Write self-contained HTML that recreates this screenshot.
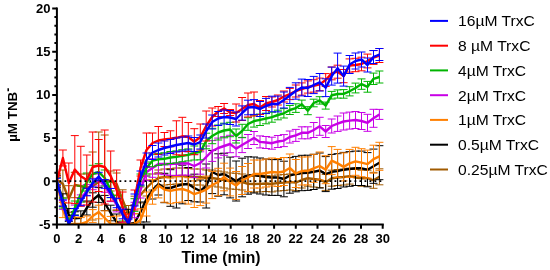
<!DOCTYPE html>
<html><head><meta charset="utf-8"><style>
html,body{margin:0;padding:0;background:#fff;width:550px;height:270px;overflow:hidden}
svg{display:block;will-change:transform}
text{font-family:"Liberation Sans",sans-serif}
.b text{font-weight:bold;font-size:13px;fill:#000}
.l text{font-size:15.5px;fill:#000}
</style></head><body>
<svg width="550" height="270" viewBox="0 0 550 270">
<defs><clipPath id="pc"><rect x="57" y="0" width="330" height="224.5"/></clipPath></defs>
<g clip-path="url(#pc)">
<path d="M56.9 174V186M52.9 174h8M52.9 186h8M62.9 170V198M58.9 170h8M58.9 198h8M68.8 185.7V212.3M64.8 185.7h8M64.8 212.3h8M74.8 172.3V197.7M70.8 172.3h8M70.8 197.7h8M80.8 174V198M76.8 174h8M76.8 198h8M86.8 174V202M82.8 174h8M82.8 202h8M92.7 152V220M88.7 152h8M88.7 220h8M98.7 132V232M94.7 132h8M94.7 232h8M104.7 135V225M100.7 135h8M100.7 225h8M110.7 171V191M106.7 171h8M106.7 191h8M116.6 173V195M112.6 173h8M112.6 195h8M122.6 189.8V210.2M118.6 189.8h8M118.6 210.2h8M128.6 205.5V224.5M124.6 205.5h8M124.6 224.5h8M134.5 196.2V213.8M130.5 196.2h8M130.5 213.8h8M140.5 187V203M136.5 187h8M136.5 203h8M146.5 180V196M142.5 180h8M142.5 196h8M152.5 174V190M148.5 174h8M148.5 190h8M158.4 170V186M154.4 170h8M154.4 186h8M164.4 169V185M160.4 169h8M160.4 185h8M170.4 168.5V184.5M166.4 168.5h8M166.4 184.5h8M176.4 168V184M172.4 168h8M172.4 184h8M182.3 168V184M178.3 168h8M178.3 184h8M188.3 168.5V184.5M184.3 168.5h8M184.3 184.5h8M194.3 169V185M190.3 169h8M190.3 185h8M200.3 169V185M196.3 169h8M196.3 185h8M206.2 170V186M202.2 170h8M202.2 186h8M212.2 170V186M208.2 170h8M208.2 186h8M218.2 171V187M214.2 171h8M214.2 187h8M224.1 172V188M220.1 172h8M220.1 188h8M230.1 173V189M226.1 173h8M226.1 189h8M236.1 173.3V189.3M232.1 173.3h8M232.1 189.3h8M242.1 174V190M238.1 174h8M238.1 190h8M248 175.9V191.9M244 175.9h8M244 191.9h8M254 176V192M250 176h8M250 192h8M260 175.9V191.9M256 175.9h8M256 191.9h8M266 175.5V191.5M262 175.5h8M262 191.5h8M271.9 175.9V191.9M267.9 175.9h8M267.9 191.9h8M277.9 175V191M273.9 175h8M273.9 191h8M283.9 174.6V190.6M279.9 174.6h8M279.9 190.6h8M289.8 174V190M285.8 174h8M285.8 190h8M295.8 174.6V190.6M291.8 174.6h8M291.8 190.6h8M301.8 172V188M297.8 172h8M297.8 188h8M307.8 170.2V186.2M303.8 170.2h8M303.8 186.2h8M313.7 171V187M309.7 171h8M309.7 187h8M319.7 171.6V187.6M315.7 171.6h8M315.7 187.6h8M325.7 174.4V190.4M321.7 174.4h8M321.7 190.4h8M331.7 170.2V186.2M327.7 170.2h8M327.7 186.2h8M337.6 169.5V185.5M333.6 169.5h8M333.6 185.5h8M343.6 169V185M339.6 169h8M339.6 185h8M349.6 168.1V184.1M345.6 168.1h8M345.6 184.1h8M355.5 169.5V185.5M351.5 169.5h8M351.5 185.5h8M361.5 170.2V186.2M357.5 170.2h8M357.5 186.2h8M367.5 170.2V186.2M363.5 170.2h8M363.5 186.2h8M373.5 172.3V188.3M369.5 172.3h8M369.5 188.3h8M379.4 168.8V184.8M375.4 168.8h8M375.4 184.8h8" stroke="#a05a00" stroke-width="1" fill="none"/>
<polyline points="56.9,180 62.9,184 68.8,199 74.8,185 80.8,186 86.8,188 92.7,186 98.7,182 104.7,180 110.7,181 116.6,184 122.6,200 128.6,215 134.5,205 140.5,195 146.5,188 152.5,182 158.4,178 164.4,177 170.4,176.5 176.4,176 182.3,176 188.3,176.5 194.3,177 200.3,177 206.2,178 212.2,178 218.2,179 224.1,180 230.1,181 236.1,181.3 242.1,182 248,183.9 254,184 260,183.9 266,183.5 271.9,183.9 277.9,183 283.9,182.6 289.8,182 295.8,182.6 301.8,180 307.8,178.2 313.7,179 319.7,179.6 325.7,182.4 331.7,178.2 337.6,177.5 343.6,177 349.6,176.1 355.5,177.5 361.5,178.2 367.5,178.2 373.5,180.3 379.4,176.8" stroke="#a05a00" stroke-width="2.4" fill="none" stroke-linejoin="round"/>
<path d="M56.9 175.3V187.3M52.9 175.3h8M52.9 187.3h8M62.9 193.8V206.2M58.9 193.8h8M58.9 206.2h8M68.8 208.6V221.4M64.8 208.6h8M64.8 221.4h8M74.8 211.8V225M70.8 211.8h8M70.8 225h8M80.8 210.9V224.5M76.8 210.9h8M76.8 224.5h8M86.8 201V215M82.8 201h8M82.8 215h8M92.7 192.8V207.2M88.7 192.8h8M88.7 207.2h8M98.7 187.6V202.4M94.7 187.6h8M94.7 202.4h8M104.7 195.4V210.6M100.7 195.4h8M100.7 210.6h8M110.7 205.2V220.8M106.7 205.2h8M106.7 220.8h8M116.6 214V230M112.6 214h8M112.6 230h8M122.6 212.7V235.3M118.6 212.7h8M118.6 235.3h8M128.6 209.3V238.7M124.6 209.3h8M124.6 238.7h8M134.5 205V241M130.5 205h8M130.5 241h8M140.5 202V222M136.5 202h8M136.5 222h8M146.5 176V222M142.5 176h8M142.5 222h8M152.5 181V199M148.5 181h8M148.5 199h8M158.4 173V195M154.4 173h8M154.4 195h8M164.4 173.3V202.7M160.4 173.3h8M160.4 202.7h8M170.4 169.7V206.3M166.4 169.7h8M166.4 206.3h8M176.4 164V208M172.4 164h8M172.4 208h8M182.3 165.2V203.8M178.3 165.2h8M178.3 203.8h8M188.3 167.5V200.5M184.3 167.5h8M184.3 200.5h8M194.3 174.2V201.8M190.3 174.2h8M190.3 201.8h8M200.3 180V202M196.3 180h8M196.3 202h8M206.2 164V208M202.2 164h8M202.2 208h8M212.2 150.4V193.6M208.2 150.4h8M208.2 193.6h8M218.2 153.8V196.2M214.2 153.8h8M214.2 196.2h8M224.1 153.2V194.8M220.1 153.2h8M220.1 194.8h8M230.1 157.1V197.9M226.1 157.1h8M226.1 197.9h8M236.1 161V201M232.1 161h8M232.1 201h8M242.1 158.2V196.8M238.1 158.2h8M238.1 196.8h8M248 156.8V194.2M244 156.8h8M244 194.2h8M254 157V193M250 157h8M250 193h8M260 158V194M256 158h8M256 194h8M266 159V195M262 159h8M262 195h8M271.9 159.6V195.4M267.9 159.6h8M267.9 195.4h8M277.9 159.6V195.4M273.9 159.6h8M273.9 195.4h8M283.9 161.2V196.8M279.9 161.2h8M279.9 196.8h8M289.8 157.6V193.2M285.8 157.6h8M285.8 193.2h8M295.8 156.4V191.8M291.8 156.4h8M291.8 191.8h8M301.8 155.3V190.7M297.8 155.3h8M297.8 190.7h8M307.8 155.2V190.4M303.8 155.2h8M303.8 190.4h8M313.7 154.3V189.5M309.7 154.3h8M309.7 189.5h8M319.7 153V188M315.7 153h8M315.7 188h8M325.7 156.6V191.6M321.7 156.6h8M321.7 191.6h8M331.7 154.4V189.2M327.7 154.4h8M327.7 189.2h8M337.6 153.7V188.5M333.6 153.7h8M333.6 188.5h8M343.6 152.4V187M339.6 152.4h8M339.6 187h8M349.6 151.7V186.3M345.6 151.7h8M345.6 186.3h8M355.5 151.1V185.5M351.5 151.1h8M351.5 185.5h8M361.5 151.1V185.5M357.5 151.1h8M357.5 185.5h8M367.5 152.6V186.8M363.5 152.6h8M363.5 186.8h8M373.5 149.1V183.3M369.5 149.1h8M369.5 183.3h8M379.4 145.7V179.7M375.4 145.7h8M375.4 179.7h8" stroke="#000000" stroke-width="1" fill="none"/>
<polyline points="56.9,181.3 62.9,200 68.8,215 74.8,218.4 80.8,217.7 86.8,208 92.7,200 98.7,195 104.7,203 110.7,213 116.6,222 122.6,224 128.6,224 134.5,223 140.5,212 146.5,199 152.5,190 158.4,184 164.4,188 170.4,188 176.4,186 182.3,184.5 188.3,184 194.3,188 200.3,191 206.2,186 212.2,172 218.2,175 224.1,174 230.1,177.5 236.1,181 242.1,177.5 248,175.5 254,175 260,176 266,177 271.9,177.5 277.9,177.5 283.9,179 289.8,175.4 295.8,174.1 301.8,173 307.8,172.8 313.7,171.9 319.7,170.5 325.7,174.1 331.7,171.8 337.6,171.1 343.6,169.7 349.6,169 355.5,168.3 361.5,168.3 367.5,169.7 373.5,166.2 379.4,162.7" stroke="#000000" stroke-width="2.4" fill="none" stroke-linejoin="round"/>
<path d="M56.9 173.3V189.3M52.9 173.3h8M52.9 189.3h8M62.9 202.4V217.6M58.9 202.4h8M58.9 217.6h8M68.8 216.8V231.2M64.8 216.8h8M64.8 231.2h8M74.8 217.2V230.8M70.8 217.2h8M70.8 230.8h8M80.8 217.6V230.4M76.8 217.6h8M76.8 230.4h8M86.8 216V228M82.8 216h8M82.8 228h8M92.7 209.6V222.4M88.7 209.6h8M88.7 222.4h8M98.7 205.2V218.8M94.7 205.2h8M94.7 218.8h8M104.7 210.8V225.2M100.7 210.8h8M100.7 225.2h8M110.7 216.4V231.6M106.7 216.4h8M106.7 231.6h8M116.6 216V232M112.6 216h8M112.6 232h8M122.6 215.2V232.8M118.6 215.2h8M118.6 232.8h8M128.6 214.4V233.6M124.6 214.4h8M124.6 233.6h8M134.5 213.6V234.4M130.5 213.6h8M130.5 234.4h8M140.5 208.8V231.2M136.5 208.8h8M136.5 231.2h8M146.5 192V216M142.5 192h8M142.5 216h8M152.5 179.8V204.2M148.5 179.8h8M148.5 204.2h8M158.4 173.1V197.9M154.4 173.1h8M154.4 197.9h8M164.4 177V202.2M160.4 177h8M160.4 202.2h8M170.4 178.1V203.7M166.4 178.1h8M166.4 203.7h8M176.4 176.6V202.6M172.4 176.6h8M172.4 202.6h8M182.3 175.9V202.1M178.3 175.9h8M178.3 202.1h8M188.3 177.7V204.1M184.3 177.7h8M184.3 204.1h8M194.3 180.9V207.5M190.3 180.9h8M190.3 207.5h8M200.3 178.8V205.6M196.3 178.8h8M196.3 205.6h8M206.2 176.1V203.1M202.2 176.1h8M202.2 203.1h8M212.2 171.4V198.6M208.2 171.4h8M208.2 198.6h8M218.2 168.3V195.7M214.2 168.3h8M214.2 195.7h8M224.1 163.2V190.8M220.1 163.2h8M220.1 190.8h8M230.1 168.1V195.9M226.1 168.1h8M226.1 195.9h8M236.1 171.5V199.5M232.1 171.5h8M232.1 199.5h8M242.1 166.5V194.5M238.1 166.5h8M238.1 194.5h8M248 163.5V191.5M244 163.5h8M244 191.5h8M254 160V188M250 160h8M250 188h8M260 160V188M256 160h8M256 188h8M266 159V187M262 159h8M262 187h8M271.9 158V186M267.9 158h8M267.9 186h8M277.9 158.5V186.5M273.9 158.5h8M273.9 186.5h8M283.9 157.5V185.5M279.9 157.5h8M279.9 185.5h8M289.8 154V182M285.8 154h8M285.8 182h8M295.8 159.5V187.5M291.8 159.5h8M291.8 187.5h8M301.8 157V185M297.8 157h8M297.8 185h8M307.8 156.9V184.9M303.8 156.9h8M303.8 184.9h8M313.7 154.3V182.3M309.7 154.3h8M309.7 182.3h8M319.7 152V180M315.7 152h8M315.7 180h8M325.7 155.7V183.7M321.7 155.7h8M321.7 183.7h8M331.7 146.6V174.6M327.7 146.6h8M327.7 174.6h8M337.6 149.4V177.4M333.6 149.4h8M333.6 177.4h8M343.6 152.9V180.9M339.6 152.9h8M339.6 180.9h8M349.6 149.4V177.4M345.6 149.4h8M345.6 177.4h8M355.5 147.3V175.3M351.5 147.3h8M351.5 175.3h8M361.5 148.7V176.7M357.5 148.7h8M357.5 176.7h8M367.5 150.1V178.1M363.5 150.1h8M363.5 178.1h8M373.5 145.2V173.2M369.5 145.2h8M369.5 173.2h8M379.4 142.3V170.3M375.4 142.3h8M375.4 170.3h8" stroke="#ff7f00" stroke-width="1" fill="none"/>
<polyline points="56.9,181.3 62.9,210 68.8,224 74.8,224 80.8,224 86.8,222 92.7,216 98.7,212 104.7,218 110.7,224 116.6,224 122.6,224 128.6,224 134.5,224 140.5,220 146.5,204 152.5,192 158.4,185.5 164.4,189.6 170.4,190.9 176.4,189.6 182.3,189 188.3,190.9 194.3,194.2 200.3,192.2 206.2,189.6 212.2,185 218.2,182 224.1,177 230.1,182 236.1,185.5 242.1,180.5 248,177.5 254,174 260,174 266,173 271.9,172 277.9,172.5 283.9,171.5 289.8,168 295.8,173.5 301.8,171 307.8,170.9 313.7,168.3 319.7,166 325.7,169.7 331.7,160.6 337.6,163.4 343.6,166.9 349.6,163.4 355.5,161.3 361.5,162.7 367.5,164.1 373.5,159.2 379.4,156.3" stroke="#ff7f00" stroke-width="2.4" fill="none" stroke-linejoin="round"/>
<path d="M56.9 177.3V185.3M52.9 177.3h8M52.9 185.3h8M62.9 200.7V209.3M58.9 200.7h8M58.9 209.3h8M68.8 219.4V228.6M64.8 219.4h8M64.8 228.6h8M74.8 205.1V214.9M70.8 205.1h8M70.8 214.9h8M80.8 194.9V205.1M76.8 194.9h8M76.8 205.1h8M86.8 184.6V195.4M82.8 184.6h8M82.8 195.4h8M92.7 178.3V189.7M88.7 178.3h8M88.7 189.7h8M98.7 174V186M94.7 174h8M94.7 186h8M104.7 179.7V192.3M100.7 179.7h8M100.7 192.3h8M110.7 188.4V201.6M106.7 188.4h8M106.7 201.6h8M116.6 198.1V211.9M112.6 198.1h8M112.6 211.9h8M122.6 207.9V222.1M118.6 207.9h8M118.6 222.1h8M128.6 216.6V231.4M124.6 216.6h8M124.6 231.4h8M134.5 202.3V217.7M130.5 202.3h8M130.5 217.7h8M140.5 182V198M136.5 182h8M136.5 198h8M146.5 163.3V180.7M142.5 163.3h8M142.5 180.7h8M152.5 158.7V177.3M148.5 158.7h8M148.5 177.3h8M158.4 154V174M154.4 154h8M154.4 174h8M164.4 153.3V174.7M160.4 153.3h8M160.4 174.7h8M170.4 152.7V175.3M166.4 152.7h8M166.4 175.3h8M176.4 151.5V175.5M172.4 151.5h8M172.4 175.5h8M182.3 151.5V175.1M178.3 151.5h8M178.3 175.1h8M188.3 151.9V175.1M184.3 151.9h8M184.3 175.1h8M194.3 154.6V177.4M190.3 154.6h8M190.3 177.4h8M200.3 151.8V174.2M196.3 151.8h8M196.3 174.2h8M206.2 146V168M202.2 146h8M202.2 168h8M212.2 140.6V161.4M208.2 140.6h8M208.2 161.4h8M218.2 138.1V157.9M214.2 138.1h8M214.2 157.9h8M224.1 136.7V155.3M220.1 136.7h8M220.1 155.3h8M230.1 135.3V152.7M226.1 135.3h8M226.1 152.7h8M236.1 140.5V156.7M232.1 140.5h8M232.1 156.7h8M242.1 137.4V152.6M238.1 137.4h8M238.1 152.6h8M248 134.5V148.5M244 134.5h8M244 148.5h8M254 131.5V144.5M250 131.5h8M250 144.5h8M260 135.9V147.9M256 135.9h8M256 147.9h8M266 136.5V148.5M262 136.5h8M262 148.5h8M271.9 137.2V149.2M267.9 137.2h8M267.9 149.2h8M277.9 135.5V147.5M273.9 135.5h8M273.9 147.5h8M283.9 134.6V146.6M279.9 134.6h8M279.9 146.6h8M289.8 131V143M285.8 131h8M285.8 143h8M295.8 129.4V141.4M291.8 129.4h8M291.8 141.4h8M301.8 126.8V138.8M297.8 126.8h8M297.8 138.8h8M307.8 126.8V138.8M303.8 126.8h8M303.8 138.8h8M313.7 122.5V137.5M309.7 122.5h8M309.7 137.5h8M319.7 117.3V135.3M315.7 117.3h8M315.7 135.3h8M325.7 125.5V137.5M321.7 125.5h8M321.7 137.5h8M331.7 119V133M327.7 119h8M327.7 133h8M337.6 116V131.4M333.6 116h8M333.6 131.4h8M343.6 113V130M339.6 113h8M339.6 130h8M349.6 112.1V129.1M345.6 112.1h8M345.6 129.1h8M355.5 111.5V128.5M351.5 111.5h8M351.5 128.5h8M361.5 112.5V129.5M357.5 112.5h8M357.5 129.5h8M367.5 114.3V131.3M363.5 114.3h8M363.5 131.3h8M373.5 109.3V127.3M369.5 109.3h8M369.5 127.3h8M379.4 109.4V119.4M375.4 109.4h8M375.4 119.4h8" stroke="#c800e6" stroke-width="1" fill="none"/>
<polyline points="56.9,181.3 62.9,205 68.8,224 74.8,210 80.8,200 86.8,190 92.7,184 98.7,180 104.7,186 110.7,195 116.6,205 122.6,215 128.6,224 134.5,210 140.5,190 146.5,172 152.5,168 158.4,164 164.4,164 170.4,164 176.4,163.5 182.3,163.3 188.3,163.5 194.3,166 200.3,163 206.2,157 212.2,151 218.2,148 224.1,146 230.1,144 236.1,148.6 242.1,145 248,141.5 254,138 260,141.9 266,142.5 271.9,143.2 277.9,141.5 283.9,140.6 289.8,137 295.8,135.4 301.8,132.8 307.8,132.8 313.7,130 319.7,126.3 325.7,131.5 331.7,126 337.6,123.7 343.6,121.5 349.6,120.6 355.5,120 361.5,121 367.5,122.8 373.5,118.3 379.4,114.4" stroke="#c800e6" stroke-width="2.4" fill="none" stroke-linejoin="round"/>
<path d="M56.9 177.3V185.3M52.9 177.3h8M52.9 185.3h8M62.9 198V208M58.9 198h8M58.9 208h8M68.8 218V230M64.8 218h8M64.8 230h8M74.8 201V215M70.8 201h8M70.8 215h8M80.8 186V202M76.8 186h8M76.8 202h8M86.8 173V191M82.8 173h8M82.8 191h8M92.7 165.3V182.7M88.7 165.3h8M88.7 182.7h8M98.7 163.7V180.3M94.7 163.7h8M94.7 180.3h8M104.7 170V186M100.7 170h8M100.7 186h8M110.7 182.3V197.7M106.7 182.3h8M106.7 197.7h8M116.6 195.7V210.3M112.6 195.7h8M112.6 210.3h8M122.6 207V221M118.6 207h8M118.6 221h8M128.6 217.3V230.7M124.6 217.3h8M124.6 230.7h8M134.5 198.7V211.3M130.5 198.7h8M130.5 211.3h8M140.5 174V186M136.5 174h8M136.5 186h8M146.5 162V174M142.5 162h8M142.5 174h8M152.5 154.7V166.7M148.5 154.7h8M148.5 166.7h8M158.4 153.4V165.4M154.4 153.4h8M154.4 165.4h8M164.4 152.8V164.8M160.4 152.8h8M160.4 164.8h8M170.4 151.5V163.5M166.4 151.5h8M166.4 163.5h8M176.4 150.9V162.9M172.4 150.9h8M172.4 162.9h8M182.3 149.7V161.7M178.3 149.7h8M178.3 161.7h8M188.3 148.9V160.9M184.3 148.9h8M184.3 160.9h8M194.3 146V160M190.3 146h8M190.3 160h8M200.3 143.8V159.8M196.3 143.8h8M196.3 159.8h8M206.2 133.2V148.8M202.2 133.2h8M202.2 148.8h8M212.2 128.3V143.7M208.2 128.3h8M208.2 143.7h8M218.2 125V140M214.2 125h8M214.2 140h8M224.1 123.2V137.8M220.1 123.2h8M220.1 137.8h8M230.1 122.3V136.7M226.1 122.3h8M226.1 136.7h8M236.1 129V143M232.1 129h8M232.1 143h8M242.1 124.3V137.7M238.1 124.3h8M238.1 137.7h8M248 117.7V130.3M244 117.7h8M244 130.3h8M254 115.1V127.1M250 115.1h8M250 127.1h8M260 114.1V125.5M256 114.1h8M256 125.5h8M266 113.2V123.8M262 113.2h8M262 123.8h8M271.9 112.2V122.2M267.9 112.2h8M267.9 122.2h8M277.9 110.2V119.8M273.9 110.2h8M273.9 119.8h8M283.9 108.6V118M279.9 108.6h8M279.9 118h8M289.8 105.5V114.5M285.8 105.5h8M285.8 114.5h8M295.8 103.8V112.4M291.8 103.8h8M291.8 112.4h8M301.8 100.1V108.5M297.8 100.1h8M297.8 108.5h8M307.8 106.7V114.7M303.8 106.7h8M303.8 114.7h8M313.7 99.2V106.8M309.7 99.2h8M309.7 106.8h8M319.7 96.7V104.1M315.7 96.7h8M315.7 104.1h8M325.7 102.1V109.1M321.7 102.1h8M321.7 109.1h8M331.7 91.4V99M327.7 91.4h8M327.7 99h8M337.6 89.9V98.1M333.6 89.9h8M333.6 98.1h8M343.6 89.6V98.2M339.6 89.6h8M339.6 98.2h8M349.6 86.7V95.9M345.6 86.7h8M345.6 95.9h8M355.5 83.1V92.9M351.5 83.1h8M351.5 92.9h8M361.5 78.9V89.3M357.5 78.9h8M357.5 89.3h8M367.5 81.4V92.2M363.5 81.4h8M363.5 92.2h8M373.5 73.1V84.5M369.5 73.1h8M369.5 84.5h8M379.4 71V83M375.4 71h8M375.4 83h8" stroke="#00b400" stroke-width="1" fill="none"/>
<polyline points="56.9,181.3 62.9,203 68.8,224 74.8,208 80.8,194 86.8,182 92.7,174 98.7,172 104.7,178 110.7,190 116.6,203 122.6,214 128.6,224 134.5,205 140.5,180 146.5,168 152.5,160.7 158.4,159.4 164.4,158.8 170.4,157.5 176.4,156.9 182.3,155.7 188.3,154.9 194.3,153 200.3,151.8 206.2,141 212.2,136 218.2,132.5 224.1,130.5 230.1,129.5 236.1,136 242.1,131 248,124 254,121.1 260,119.8 266,118.5 271.9,117.2 277.9,115 283.9,113.3 289.8,110 295.8,108.1 301.8,104.3 307.8,110.7 313.7,103 319.7,100.4 325.7,105.6 331.7,95.2 337.6,94 343.6,93.9 349.6,91.3 355.5,88 361.5,84.1 367.5,86.8 373.5,78.8 379.4,77" stroke="#00b400" stroke-width="2.4" fill="none" stroke-linejoin="round"/>
<path d="M56.9 176V186M52.9 176h8M52.9 186h8M62.9 150V166M58.9 150h8M58.9 166h8M68.8 163V203M64.8 163h8M64.8 203h8M74.8 135.6V203.6M70.8 135.6h8M70.8 203.6h8M80.8 146.3V206.3M76.8 146.3h8M76.8 206.3h8M86.8 155V205M82.8 155h8M82.8 205h8M92.7 132V202M88.7 132h8M88.7 202h8M98.7 139.5V191.5M94.7 139.5h8M94.7 191.5h8M104.7 130V204M100.7 130h8M100.7 204h8M110.7 151V201M106.7 151h8M106.7 201h8M116.6 170V210M112.6 170h8M112.6 210h8M122.6 192V222M118.6 192h8M118.6 222h8M128.6 214V234M124.6 214h8M124.6 234h8M134.5 190V210M130.5 190h8M130.5 210h8M140.5 160V176M136.5 160h8M136.5 176h8M146.5 133V167M142.5 133h8M142.5 167h8M152.5 133V153M148.5 133h8M148.5 153h8M158.4 126.5V154.5M154.4 126.5h8M154.4 154.5h8M164.4 132.5V146.5M160.4 132.5h8M160.4 146.5h8M170.4 130.8V146.8M166.4 130.8h8M166.4 146.8h8M176.4 120.8V154.8M172.4 120.8h8M172.4 154.8h8M182.3 117.3V155.3M178.3 117.3h8M178.3 155.3h8M188.3 122.5V151.5M184.3 122.5h8M184.3 151.5h8M194.3 128.7V154.7M190.3 128.7h8M190.3 154.7h8M200.3 124V150M196.3 124h8M196.3 150h8M206.2 111V141M202.2 111h8M202.2 141h8M212.2 108V126M208.2 108h8M208.2 126h8M218.2 106.5V116.5M214.2 106.5h8M214.2 116.5h8M224.1 103.5V113.5M220.1 103.5h8M220.1 113.5h8M230.1 109.5V115.5M226.1 109.5h8M226.1 115.5h8M236.1 104V122M232.1 104h8M232.1 122h8M242.1 97.5V120.5M238.1 97.5h8M238.1 120.5h8M248 93V117M244 93h8M244 117h8M254 92V116M250 92h8M250 116h8M260 100.5V114.5M256 100.5h8M256 114.5h8M266 96.5V110.5M262 96.5h8M262 110.5h8M271.9 97V107M267.9 97h8M267.9 107h8M277.9 95V105M273.9 95h8M273.9 105h8M283.9 91V102M279.9 91h8M279.9 102h8M289.8 88.4V99.6M285.8 88.4h8M285.8 99.6h8M295.8 85V97M291.8 85h8M291.8 97h8M301.8 82.9V95.1M297.8 82.9h8M297.8 95.1h8M307.8 80.9V93.1M303.8 80.9h8M303.8 93.1h8M313.7 79.7V92.1M309.7 79.7h8M309.7 92.1h8M319.7 78.1V90.7M315.7 78.1h8M315.7 90.7h8M325.7 73.6V86.4M321.7 73.6h8M321.7 86.4h8M331.7 67V79.8M327.7 67h8M327.7 79.8h8M337.6 65.2V78.2M333.6 65.2h8M333.6 78.2h8M343.6 69.5V82.7M339.6 69.5h8M339.6 82.7h8M349.6 58.9V72.1M345.6 58.9h8M345.6 72.1h8M355.5 58.3V71.7M351.5 58.3h8M351.5 71.7h8M361.5 57.2V70.8M357.5 57.2h8M357.5 70.8h8M367.5 54.1V67.9M363.5 54.1h8M363.5 67.9h8M373.5 50.6V64.4M369.5 50.6h8M369.5 64.4h8M379.4 48.5V62.5M375.4 48.5h8M375.4 62.5h8" stroke="#ff0000" stroke-width="1" fill="none"/>
<polyline points="56.9,181 62.9,158 68.8,183 74.8,169.6 80.8,176.3 86.8,180 92.7,167 98.7,165.5 104.7,167 110.7,176 116.6,190 122.6,207 128.6,224 134.5,200 140.5,168 146.5,150 152.5,143 158.4,140.5 164.4,139.5 170.4,138.8 176.4,137.8 182.3,136.3 188.3,137 194.3,141.7 200.3,137 206.2,126 212.2,117 218.2,111.5 224.1,108.5 230.1,112.5 236.1,113 242.1,109 248,105 254,104 260,107.5 266,103.5 271.9,102 277.9,100 283.9,96.5 289.8,94 295.8,91 301.8,89 307.8,87 313.7,85.9 319.7,84.4 325.7,80 331.7,73.4 337.6,71.7 343.6,76.1 349.6,65.5 355.5,65 361.5,64 367.5,61 373.5,57.5 379.4,55.5" stroke="#ff0000" stroke-width="2.4" fill="none" stroke-linejoin="round"/>
<path d="M56.9 178.3V184.3M52.9 178.3h8M52.9 184.3h8M62.9 199.8V206.2M58.9 199.8h8M58.9 206.2h8M68.8 220.7V227.3M64.8 220.7h8M64.8 227.3h8M74.8 208.5V215.5M70.8 208.5h8M70.8 215.5h8M80.8 198.3V205.7M76.8 198.3h8M76.8 205.7h8M86.8 188.2V195.8M82.8 188.2h8M82.8 195.8h8M92.7 179V187M88.7 179h8M88.7 187h8M98.7 172.3V180.7M94.7 172.3h8M94.7 180.7h8M104.7 179.7V188.3M100.7 179.7h8M100.7 188.3h8M110.7 188.5V197.5M106.7 188.5h8M106.7 197.5h8M116.6 198.3V207.7M112.6 198.3h8M112.6 207.7h8M122.6 209.2V218.8M118.6 209.2h8M118.6 218.8h8M128.6 219V229M124.6 219h8M124.6 229h8M134.5 194V206M130.5 194h8M130.5 206h8M140.5 171V185M136.5 171h8M136.5 185h8M146.5 153V167M142.5 153h8M142.5 167h8M152.5 145.5V159.5M148.5 145.5h8M148.5 159.5h8M158.4 143V157M154.4 143h8M154.4 157h8M164.4 141V155M160.4 141h8M160.4 155h8M170.4 139.5V153.5M166.4 139.5h8M166.4 153.5h8M176.4 138V152M172.4 138h8M172.4 152h8M182.3 137V151M178.3 137h8M178.3 151h8M188.3 136V150M184.3 136h8M184.3 150h8M194.3 137.5V151.5M190.3 137.5h8M190.3 151.5h8M200.3 135V149M196.3 135h8M196.3 149h8M206.2 124V138M202.2 124h8M202.2 138h8M212.2 115V129M208.2 115h8M208.2 129h8M218.2 111.5V125.5M214.2 111.5h8M214.2 125.5h8M224.1 110V124M220.1 110h8M220.1 124h8M230.1 110.5V124.5M226.1 110.5h8M226.1 124.5h8M236.1 112V126M232.1 112h8M232.1 126h8M242.1 105.9V120.1M238.1 105.9h8M238.1 120.1h8M248 100.2V114.8M244 100.2h8M244 114.8h8M254 99.6V114.4M250 99.6h8M250 114.4h8M260 101.5V116.5M256 101.5h8M256 116.5h8M266 98.4V113.6M262 98.4h8M262 113.6h8M271.9 96.2V111.8M267.9 96.2h8M267.9 111.8h8M277.9 96.1V111.9M273.9 96.1h8M273.9 111.9h8M283.9 92V108M279.9 92h8M279.9 108h8M289.8 87.4V103.6M285.8 87.4h8M285.8 103.6h8M295.8 82.8V99.2M291.8 82.8h8M291.8 99.2h8M301.8 79.1V95.9M297.8 79.1h8M297.8 95.9h8M307.8 79.5V96.5M303.8 79.5h8M303.8 96.5h8M313.7 76.4V93.6M309.7 76.4h8M309.7 93.6h8M319.7 73.5V91M315.7 73.5h8M315.7 91h8M325.7 78.8V96.6M321.7 78.8h8M321.7 96.6h8M331.7 67.1V85.1M327.7 67.1h8M327.7 85.1h8M337.6 53.1V83.1M333.6 53.1h8M333.6 83.1h8M343.6 66.1V86.1M339.6 66.1h8M339.6 86.1h8M349.6 55.5V73.5M345.6 55.5h8M345.6 73.5h8M355.5 53V69M351.5 53h8M351.5 69h8M361.5 52V67M357.5 52h8M357.5 67h8M367.5 58V72M363.5 58h8M363.5 72h8M373.5 50.5V63.5M369.5 50.5h8M369.5 63.5h8M379.4 48.5V60.5M375.4 48.5h8M375.4 60.5h8" stroke="#0000ff" stroke-width="1" fill="none"/>
<polyline points="56.9,181.3 62.9,203 68.8,224 74.8,212 80.8,202 86.8,192 92.7,183 98.7,176.5 104.7,184 110.7,193 116.6,203 122.6,214 128.6,224 134.5,200 140.5,178 146.5,160 152.5,152.5 158.4,150 164.4,148 170.4,146.5 176.4,145 182.3,144 188.3,143 194.3,144.5 200.3,142 206.2,131 212.2,122 218.2,118.5 224.1,117 230.1,117.5 236.1,119 242.1,113 248,107.5 254,107 260,109 266,106 271.9,104 277.9,104 283.9,100 289.8,95.5 295.8,91 301.8,87.5 307.8,88 313.7,85 319.7,82.3 325.7,87.7 331.7,76.1 337.6,68.1 343.6,76.1 349.6,64.5 355.5,61 361.5,59.5 367.5,65 373.5,57 379.4,54.5" stroke="#0000ff" stroke-width="2.4" fill="none" stroke-linejoin="round"/>
</g>
<path d="M56.9 7.5V225.5M55.9 224.5H383.8" stroke="#000" stroke-width="2" fill="none"/>
<path d="M52.2 224.5H57M54.4 215.9H57M54.4 207.2H57M54.4 198.6H57M54.4 189.9H57M52.2 181.3H57M54.4 172.7H57M54.4 164H57M54.4 155.4H57M54.4 146.7H57M52.2 138.1H57M54.4 129.5H57M54.4 120.8H57M54.4 112.2H57M54.4 103.5H57M52.2 94.9H57M54.4 86.3H57M54.4 77.6H57M54.4 69H57M54.4 60.3H57M52.2 51.7H57M54.4 43.1H57M54.4 34.4H57M54.4 25.8H57M54.4 17.1H57M52.2 8.5H57M56.9 224.5V228.8M78.6 224.5V228.8M100.3 224.5V228.8M122.1 224.5V228.8M143.8 224.5V228.8M165.5 224.5V228.8M187.2 224.5V228.8M208.9 224.5V228.8M230.7 224.5V228.8M252.4 224.5V228.8M274.1 224.5V228.8M295.8 224.5V228.8M317.5 224.5V228.8M339.3 224.5V228.8M361 224.5V228.8M382.7 224.5V228.8" stroke="#000" stroke-width="2" fill="none"/>
<path d="M59.5 181.2H384" stroke="#000" stroke-width="1.8" stroke-dasharray="1.8 3.2" fill="none"/>
<g class="b"><text x="50.5" y="228.8" text-anchor="end">-5</text>
<text x="50.5" y="185.6" text-anchor="end">0</text>
<text x="50.5" y="142.4" text-anchor="end">5</text>
<text x="50.5" y="99.2" text-anchor="end">10</text>
<text x="50.5" y="56" text-anchor="end">15</text>
<text x="50.5" y="12.8" text-anchor="end">20</text>
<text x="56.9" y="243.2" text-anchor="middle">0</text>
<text x="78.6" y="243.2" text-anchor="middle">2</text>
<text x="100.3" y="243.2" text-anchor="middle">4</text>
<text x="122.1" y="243.2" text-anchor="middle">6</text>
<text x="143.8" y="243.2" text-anchor="middle">8</text>
<text x="165.5" y="243.2" text-anchor="middle">10</text>
<text x="187.2" y="243.2" text-anchor="middle">12</text>
<text x="208.9" y="243.2" text-anchor="middle">14</text>
<text x="230.7" y="243.2" text-anchor="middle">16</text>
<text x="252.4" y="243.2" text-anchor="middle">18</text>
<text x="274.1" y="243.2" text-anchor="middle">20</text>
<text x="295.8" y="243.2" text-anchor="middle">22</text>
<text x="317.5" y="243.2" text-anchor="middle">24</text>
<text x="339.3" y="243.2" text-anchor="middle">26</text>
<text x="361" y="243.2" text-anchor="middle">28</text>
<text x="382.7" y="243.2" text-anchor="middle">30</text>
<text x="221" y="263.1" text-anchor="middle" style="font-size:15.7px">Time (min)</text>
<text transform="translate(16.5,114.8) rotate(-90)" text-anchor="middle" style="font-size:13.4px">µM TNB<tspan dy="-4.6" style="font-size:12px">-</tspan></text>
</g>
<g class="l"><path d="M430 20.9H448" stroke="#0000ff" stroke-width="2"/>
<text transform="translate(458 26.2) scale(1.01 1)">16µM TrxC</text>
<path d="M430 45.7H448" stroke="#ff0000" stroke-width="2"/>
<text transform="translate(458 51) scale(1.01 1)">8 µM TrxC</text>
<path d="M430 70.4H448" stroke="#00b400" stroke-width="2"/>
<text transform="translate(458 75.7) scale(1.01 1)">4µM TrxC</text>
<path d="M430 95.2H448" stroke="#c800e6" stroke-width="2"/>
<text transform="translate(458 100.5) scale(1.01 1)">2µM TrxC</text>
<path d="M430 119.9H448" stroke="#ff7f00" stroke-width="2"/>
<text transform="translate(458 125.2) scale(1.01 1)">1µM TrxC</text>
<path d="M430 144.7H448" stroke="#000000" stroke-width="2"/>
<text transform="translate(458 150) scale(1.01 1)">0.5µM TrxC</text>
<path d="M430 169.5H448" stroke="#a05a00" stroke-width="2"/>
<text transform="translate(458 174.8) scale(1.01 1)">0.25µM TrxC</text></g>
</svg>
</body></html>
